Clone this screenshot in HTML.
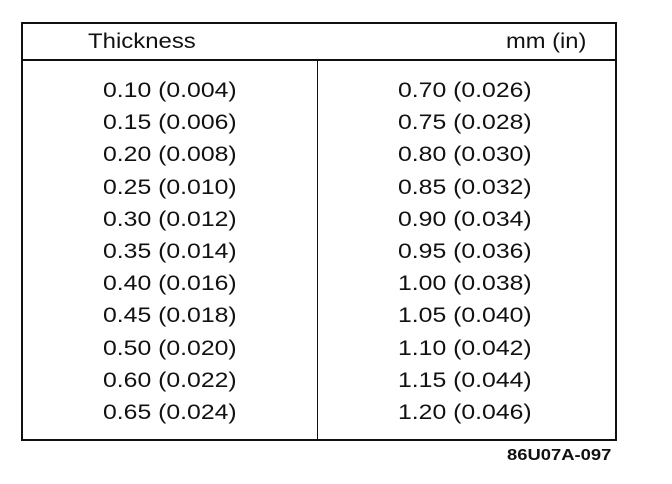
<!DOCTYPE html>
<html><head><style>
body{margin:0;width:672px;height:484px;background:#fff;position:relative;font-family:"Liberation Sans",sans-serif;color:#111;overflow:hidden}
.t{position:absolute;font-size:21px;line-height:20px;white-space:nowrap;transform:scaleX(1.18);transform-origin:0 50%}
.b{position:absolute;background:#111}
</style></head><body>
<div class="b" style="left:21px;top:22px;width:596px;height:2px"></div>
<div class="b" style="left:21px;top:59px;width:596px;height:2px"></div>
<div class="b" style="left:21px;top:439px;width:596px;height:2px"></div>
<div class="b" style="left:21px;top:22px;width:2px;height:419px"></div>
<div class="b" style="left:615px;top:22px;width:2px;height:419px"></div>
<div class="b" style="left:317px;top:60px;width:1px;height:380px"></div>
<div class="t" style="left:88px;top:32px;transform:scaleX(1.14)">Thickness</div>
<div class="t" style="left:506px;top:32px;transform:scaleX(1.13)">mm (in)</div>
<div id="L"></div>
<script>
var l=["0.10 (0.004)","0.15 (0.006)","0.20 (0.008)","0.25 (0.010)","0.30 (0.012)","0.35 (0.014)","0.40 (0.016)","0.45 (0.018)","0.50 (0.020)","0.60 (0.022)","0.65 (0.024)"];
var r=["0.70 (0.026)","0.75 (0.028)","0.80 (0.030)","0.85 (0.032)","0.90 (0.034)","0.95 (0.036)","1.00 (0.038)","1.05 (0.040)","1.10 (0.042)","1.15 (0.044)","1.20 (0.046)"];
var h="";
for(var i=0;i<11;i++){var y=81+i*32.2;
h+='<div class="t" style="left:103px;top:'+y+'px">'+l[i]+'</div>';
h+='<div class="t" style="left:398px;top:'+y+'px">'+r[i]+'</div>';}
document.getElementById("L").innerHTML=h;
</script>
<div class="t" style="left:507px;top:446px;font-size:16px;font-weight:bold;transform:scaleX(1.15)">86U07A-097</div>
</body></html>
